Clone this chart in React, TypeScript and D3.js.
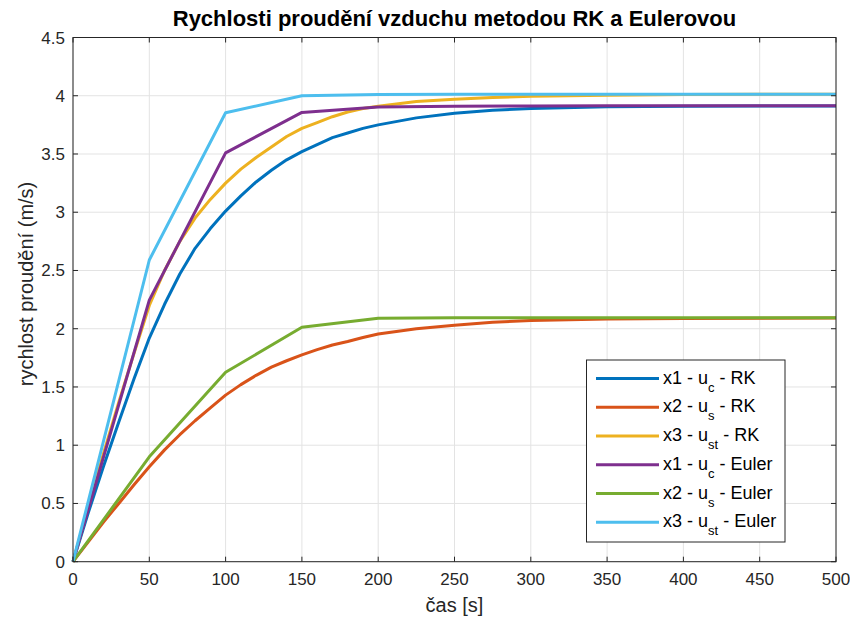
import React from "react";
import * as d3 from "d3";

const title = "Rychlosti proudění vzduchu metodou RK a Eulerovou";
const xLabel = "čas [s]";
const yLabel = "rychlost proudění (m/s)";
const xTicks = [0, 50, 100, 150, 200, 250, 300, 350, 400, 450, 500];
const yTicks = [0, 0.5, 1, 1.5, 2, 2.5, 3, 3.5, 4, 4.5];

const tRK = [0, 10, 20, 30, 40, 50, 60, 70, 80, 90, 100, 110, 120, 130, 140, 150, 160, 170, 180, 190, 200, 225, 250, 275, 300, 350, 400, 450, 500];
const x1RK = [0, 0.42, 0.82, 1.2, 1.57, 1.92, 2.21, 2.47, 2.69, 2.86, 3.01, 3.14, 3.26, 3.36, 3.45, 3.52, 3.58, 3.64, 3.68, 3.72, 3.75, 3.81, 3.85, 3.875, 3.89, 3.905, 3.91, 3.912, 3.913];
const x2RK = [0, 0.17, 0.34, 0.5, 0.66, 0.815, 0.96, 1.09, 1.21, 1.32, 1.43, 1.52, 1.6, 1.67, 1.725, 1.775, 1.82, 1.86, 1.89, 1.925, 1.955, 2.0, 2.03, 2.055, 2.07, 2.083, 2.088, 2.09, 2.092];
const x3RK = [0, 0.47, 0.93, 1.37, 1.79, 2.2, 2.5, 2.75, 2.95, 3.11, 3.25, 3.37, 3.47, 3.56, 3.65, 3.72, 3.77, 3.82, 3.86, 3.89, 3.91, 3.95, 3.97, 3.985, 3.995, 4.005, 4.01, 4.012, 4.012];

const tEu = [0, 50, 100, 150, 200, 250, 300, 350, 400, 450, 500];
const x1Eu = [0, 2.246, 3.51, 3.857, 3.903, 3.91, 3.913, 3.914, 3.914, 3.914, 3.914];
const x2Eu = [0, 0.9, 1.626, 2.012, 2.089, 2.094, 2.095, 2.095, 2.095, 2.095, 2.095];
const x3Eu = [0, 2.59, 3.854, 4.0, 4.01, 4.012, 4.012, 4.012, 4.012, 4.012, 4.012];

const seriesNames = [
  { pre: "x1 - u", sub: "c", post: " - RK" },
  { pre: "x2 - u", sub: "s", post: " - RK" },
  { pre: "x3 - u", sub: "st", post: " - RK" },
  { pre: "x1 - u", sub: "c", post: " - Euler" },
  { pre: "x2 - u", sub: "s", post: " - Euler" },
  { pre: "x3 - u", sub: "st", post: " - Euler" },
];
const colors = ["#0072BD", "#D95319", "#EDB120", "#7E2F8E", "#77AC30", "#4DBEEE"];

const W = 850, H = 622;
const L = 73, R = 836, T = 37.5, B = 561.7;
const font = "'Liberation Sans', Arial, Helvetica, sans-serif";

export default function App() {
  const x = d3.scaleLinear().domain([0, 500]).range([L, R]);
  const y = d3.scaleLinear().domain([0, 4.5]).range([B, T]);
  const line = d3.line<[number, number]>().x(d => x(d[0])).y(d => y(d[1]));
  const series: [number[], number[]][] = [
    [tRK, x1RK], [tRK, x2RK], [tRK, x3RK], [tEu, x1Eu], [tEu, x2Eu], [tEu, x3Eu],
  ];
  const axisColor = "#262626";
  const tickLen = 5;
  const legX = 586.5, legY = 360, legW = 198.5, legH = 182;
  const rowY0 = 378.5, rowDy = 28.75;
  return (
    <svg width={W} height={H} style={{ position: "absolute", left: 0, top: 0, background: "#fff" }} fontFamily={font}>
      <rect x={0} y={0} width={W} height={H} fill="#fff" />
      {xTicks.map(t => (
        <line key={"gx" + t} x1={x(t)} x2={x(t)} y1={T} y2={B} stroke="#e3e3e3" strokeWidth={1} />
      ))}
      {yTicks.map(t => (
        <line key={"gy" + t} x1={L} x2={R} y1={y(t)} y2={y(t)} stroke="#e3e3e3" strokeWidth={1} />
      ))}
      <g clipPath="url(#clip)">
        <clipPath id="clip"><rect x={L - 3} y={T} width={R - L + 3} height={B - T + 3} /></clipPath>
        {series.map(([ts, vs], i) => (
          <path key={i} d={line(ts.map((t, j) => [t, vs[j]]) as [number, number][]) || ""} fill="none" stroke={colors[i]} strokeWidth={3} strokeLinejoin="round" />
        ))}
      </g>
      <rect x={L} y={T} width={R - L} height={B - T} fill="none" stroke={axisColor} strokeWidth={1} />
      {xTicks.map(t => (
        <g key={"tx" + t}>
          <line x1={x(t)} x2={x(t)} y1={B} y2={B - tickLen} stroke={axisColor} />
          <line x1={x(t)} x2={x(t)} y1={T} y2={T + tickLen} stroke={axisColor} />
          <text x={x(t)} y={B + 23} fontSize={17} textAnchor="middle" fill={axisColor}>{t}</text>
        </g>
      ))}
      {yTicks.map(t => (
        <g key={"ty" + t}>
          <line x1={L} x2={L + tickLen} y1={y(t)} y2={y(t)} stroke={axisColor} />
          <line x1={R} x2={R - tickLen} y1={y(t)} y2={y(t)} stroke={axisColor} />
          <text x={L - 8} y={y(t) + 6} fontSize={17} textAnchor="end" fill={axisColor}>{t}</text>
        </g>
      ))}
      <text x={(L + R) / 2} y={26} fontSize={22} fontWeight="bold" textAnchor="middle" fill="#000">{title}</text>
      <text x={(L + R) / 2} y={612} fontSize={20} textAnchor="middle" fill={axisColor}>{xLabel}</text>
      <text transform={`translate(33,${284}) rotate(-90)`} fontSize={20} textAnchor="middle" fill={axisColor}>{yLabel}</text>
      <rect x={legX} y={legY} width={legW} height={legH} fill="#fff" stroke={axisColor} strokeWidth={1} />
      {seriesNames.map((s, i) => {
        const ry = rowY0 + i * rowDy;
        return (
          <g key={"lg" + i}>
            <line x1={596} x2={659} y1={ry} y2={ry} stroke={colors[i]} strokeWidth={3} />
            <text x={663} y={ry + 5} fontSize={18} fill="#000">
              {s.pre}
              <tspan fontSize={13} dy={8}>{s.sub}</tspan>
              <tspan dy={-8}>{s.post}</tspan>
            </text>
          </g>
        );
      })}
    </svg>
  );
}
